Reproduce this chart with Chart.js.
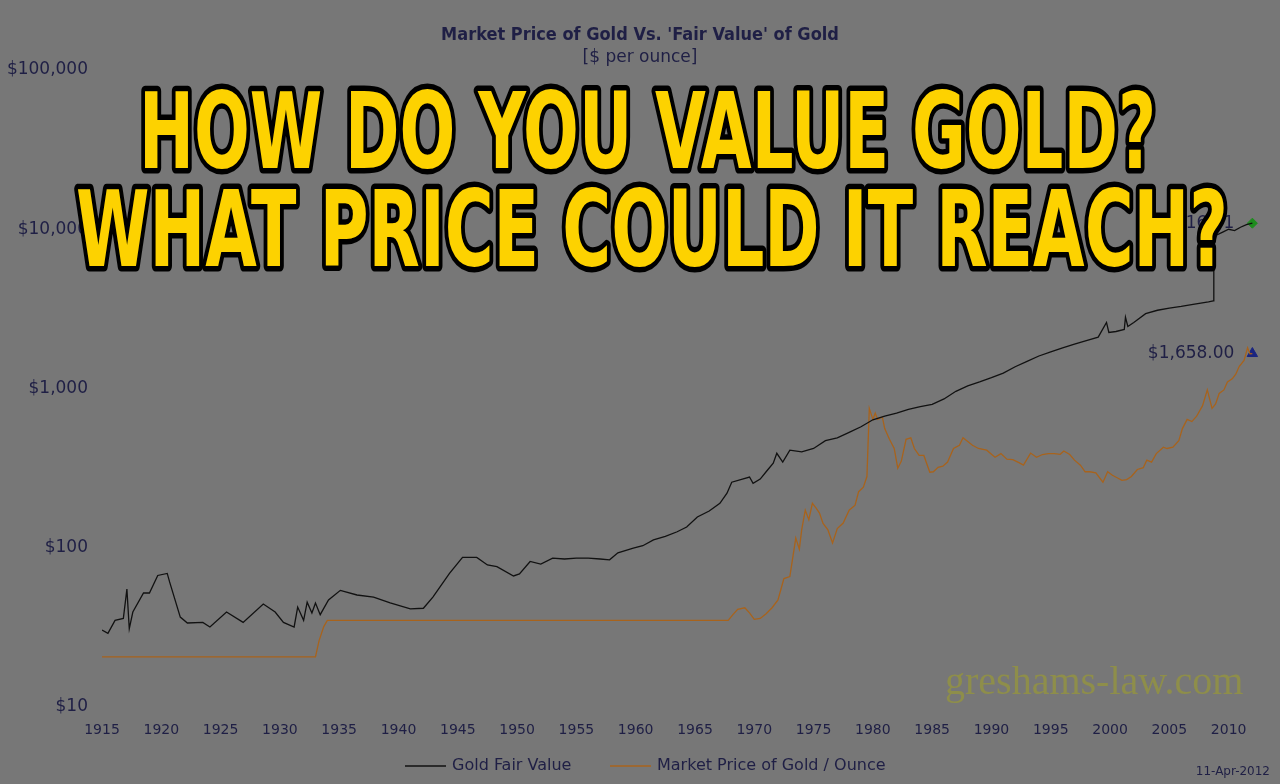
<!DOCTYPE html>
<html>
<head>
<meta charset="utf-8">
<script src="https://cdn.jsdelivr.net/npm/chart.js@4.4.0/dist/chart.umd.min.js"></script>
<style>
html, body { margin: 0; padding: 0; background: #777777; }
#wrap { width: 1280px; height: 784px; position: relative; }
</style>
</head>
<body>
<div id="wrap"><canvas id="goldChart"></canvas></div>
<script>
// fair value of gold
const fairYears = [1915, 1915.5, 1916.1, 1916.8, 1917.1, 1917.3, 1917.6, 1918.5, 1919, 1919.7, 1920.5, 1920.7,
  1921.6, 1922.2, 1923.5, 1924.1, 1925.5, 1926.9, 1928.6, 1929.6, 1930.3, 1931.2, 1931.5, 1932, 1932.3,
  1932.7, 1933, 1933.4, 1934.1, 1935.1, 1936.5, 1937.9, 1939.3, 1941, 1942.1, 1942.9, 1944.3, 1945.4,
  1946.6, 1947.5, 1948.3, 1949.7, 1950.2, 1951.1, 1952, 1953, 1954, 1955, 1956, 1957, 1957.8, 1958.5,
  1959.8, 1960.6, 1961.5, 1962.5, 1963.5, 1964.3, 1965.2, 1966.2, 1967.1, 1967.7, 1968.1, 1969, 1969.6,
  1969.9, 1970.5, 1971, 1971.6, 1971.9, 1972.4, 1973, 1974, 1975, 1976, 1977, 1978, 1979, 1980, 1981,
  1982, 1983, 1984, 1985, 1986, 1987, 1988, 1989, 1990, 1991, 1992, 1993, 1994, 1995, 1996, 1997, 1998,
  1999, 1999.7, 1999.9, 2000.5, 2001.2, 2001.3, 2001.5, 2002, 2003, 2004, 2005, 2006, 2007, 2008.3,
  2008.7, 2008.75, 2009, 2009.5, 2010, 2010.5, 2011, 2011.5, 2012];
const fairValue = [30.4, 29, 35, 36, 55, 31, 39.5, 52, 52, 67, 69, 61,
  36.7, 33.7, 34, 31.8, 39.5, 34, 44.3, 39.5, 34, 31.8, 42.4, 35, 45.5,
  38.9, 45, 38, 47, 54, 50.5, 49, 45, 41.3, 41.7, 49, 69, 87,
  87, 78, 76, 66.5, 68.5, 82, 79, 86, 85, 86, 86, 85, 84, 93,
  99.6, 103, 112, 118, 126, 135, 156, 170, 190, 220, 258, 270, 278,
  254, 270, 300, 340, 392, 345, 410, 400, 420, 470, 490, 530, 575, 636, 670,
  700, 740, 770, 795, 860, 960, 1040, 1100, 1170, 1250, 1370, 1480, 1600, 1700, 1800, 1900, 2000,
  2100, 2600, 2250, 2280, 2350, 2800, 2450, 2600, 2950, 3100, 3200, 3280, 3380, 3500,
  3550, 8000, 9200, 9600, 10000, 9800, 10300, 10700, 10916.81];

// market price of gold per ounce
const marketYears = [1915, 1933, 1933.3, 1933.7, 1934, 1967.8, 1968.2, 1968.6, 1969.2, 1969.6, 1970, 1970.5,
  1971, 1971.5, 1972, 1972.5, 1973, 1973.5, 1973.8, 1974, 1974.3, 1974.6, 1974.9, 1975.2, 1975.5, 1975.8,
  1976.2, 1976.6, 1977, 1977.5, 1978, 1978.5, 1978.8, 1979.2, 1979.5, 1979.7, 1980, 1980.2, 1980.4, 1980.8,
  1981, 1981.4, 1981.8, 1982.1, 1982.4, 1982.8, 1983.2, 1983.5, 1983.9, 1984.3, 1984.8, 1985.1, 1985.5,
  1985.9, 1986.3, 1986.8, 1987.3, 1987.6, 1988.4, 1988.9, 1989.6, 1990.3, 1990.8, 1991.3, 1991.8, 1992.4,
  1992.7, 1993.3, 1993.8, 1994.3, 1994.8, 1995.3, 1995.8, 1996.1, 1996.6, 1997, 1997.5, 1997.9, 1998.3,
  1998.8, 1999.4, 1999.8, 2000.2, 2000.6, 2001, 2001.4, 2001.8, 2002.3, 2002.8, 2003.1, 2003.5, 2003.9,
  2004.5, 2004.8, 2005.3, 2005.8, 2006.1, 2006.5, 2006.9, 2007.3, 2007.8, 2008.2, 2008.6, 2008.9, 2009.2,
  2009.6, 2009.9, 2010.3, 2010.6, 2010.9, 2011.3, 2011.6, 2011.8, 2012];
const marketPrice = [20.67, 20.67, 26, 32, 35, 35, 38, 41, 42, 39, 35.5, 36,
  38.5, 42, 47, 64, 66, 115, 98, 130, 172, 150, 190, 178, 165, 142,
  130, 107, 132, 143, 172, 185, 225, 240, 280, 750, 640, 700, 640, 660,
  560, 480, 420, 316, 350, 480, 490, 420, 380, 380, 298, 300, 320,
  325, 345, 420, 440, 490, 440, 420, 410, 370, 390, 360, 358, 340,
  330, 393, 370, 385, 390, 390, 386, 405, 385, 355, 330, 300, 300,
  295, 258, 300, 285, 275, 265, 268, 280, 310, 318, 355, 345, 390,
  428, 420, 428, 470, 560, 640, 620, 670, 780, 980, 750, 800, 930,
  980, 1100, 1150, 1230, 1380, 1500, 1800, 1650, 1658];

const yTicks = [10, 100, 1000, 10000, 100000];
const xTicks = [1915, 1920, 1925, 1930, 1935, 1940, 1945, 1950, 1955, 1960, 1965, 1970, 1975,
  1980, 1985, 1990, 1995, 2000, 2005, 2010];
const lastDate = 2012;
const lastFair = 10916.81;
const lastMarket = 1658.00;
const seriesNames = ['Gold Fair Value', 'Market Price of Gold / Ounce'];
const seriesColors = ['#111111', '#a8631c'];
const headlineText = ['HOW DO YOU VALUE GOLD?', 'WHAT PRICE COULD IT REACH?'];

const ink = '#1f1f45';

function money(v, dec) {
  return '$' + v.toLocaleString('en-US', { minimumFractionDigits: dec, maximumFractionDigits: dec });
}

// watermark under the lines, end labels, legend, date and the big headline on top
const extras = {
  id: 'extras',
  beforeDatasetsDraw(chart) {
    const ctx = chart.ctx;
    ctx.save();
    ctx.font = '40px "Liberation Serif"';
    ctx.fillStyle = '#8e8e4a';
    ctx.textBaseline = 'alphabetic';
    ctx.fillText('greshams-law.com', 945, 694);
    ctx.restore();
  },
  afterDatasetsDraw(chart) {
    const ctx = chart.ctx;
    const x = chart.scales.x, y = chart.scales.y;
    ctx.save();
    ctx.font = '17px "DejaVu Sans"';
    ctx.fillStyle = ink;
    ctx.textAlign = 'right';
    ctx.textBaseline = 'middle';
    ctx.fillText(money(lastFair, 2), x.getPixelForValue(lastDate) - 18, y.getPixelForValue(lastFair));
    ctx.fillText(money(lastMarket, 2), x.getPixelForValue(lastDate) - 18, y.getPixelForValue(lastMarket));
    ctx.font = '12px "DejaVu Sans"';
    ctx.fillText('11-Apr-2012', 1270, 772);

    // legend
    ctx.textAlign = 'left';
    ctx.font = '16px "DejaVu Sans"';
    const legendX = [405, 610];
    seriesNames.forEach((name, i) => {
      ctx.strokeStyle = seriesColors[i];
      ctx.lineWidth = 1.5;
      ctx.beginPath();
      ctx.moveTo(legendX[i], 766);
      ctx.lineTo(legendX[i] + 41, 766);
      ctx.stroke();
      ctx.fillStyle = ink;
      ctx.fillText(name, legendX[i] + 47, 766);
    });
    ctx.restore();
  },
  afterDraw(chart) {
    const ctx = chart.ctx;
    const rows = [
      { text: headlineText[0], left: 139, base: 168, width: 1017 },
      { text: headlineText[1], left: 76, base: 266, width: 1152 }
    ];
    ctx.save();
    ctx.font = 'bold 106px "DejaVu Sans Condensed"';
    ctx.textBaseline = 'alphabetic';
    ctx.lineJoin = 'round';
    rows.forEach(r => {
      const w = ctx.measureText(r.text).width;
      const sx = r.width / w;
      ctx.save();
      ctx.translate(r.left, r.base);
      ctx.scale(sx, 1);
      ctx.strokeStyle = '#000000';
      ctx.lineWidth = 11;
      ctx.strokeText(r.text, 0, 0);
      ctx.fillStyle = '#fdd200';
      ctx.fillText(r.text, 0, 0);
      ctx.restore();
    });
    ctx.restore();
  }
};

const ctx = document.getElementById('goldChart').getContext('2d');
const goldChart = new Chart(ctx, {
  type: 'line',
  data: {
    datasets: [{
      label: seriesNames[0],
      data: fairYears.map((yr, i) => ({ x: yr, y: fairValue[i] })),
      borderColor: seriesColors[0],
      backgroundColor: seriesColors[0],
      borderWidth: 1.3,
      pointRadius: 0
    }, {
      label: seriesNames[1],
      data: marketYears.map((yr, i) => ({ x: yr, y: marketPrice[i] })),
      borderColor: seriesColors[1],
      backgroundColor: seriesColors[1],
      borderWidth: 1.3,
      pointRadius: 0
    }, {
      label: 'fair end',
      data: [{ x: lastDate, y: lastFair }],
      showLine: false,
      pointStyle: 'rectRot',
      pointRadius: 5,
      backgroundColor: '#1e8c1e',
      borderColor: '#1e8c1e'
    }, {
      label: 'market end',
      data: [{ x: lastDate, y: lastMarket }],
      showLine: false,
      pointStyle: 'triangle',
      pointRadius: 6,
      backgroundColor: '#1a2580',
      borderColor: '#1a2580'
    }]
  },
  options: {
    responsive: true,
    maintainAspectRatio: false,
    animation: false,
    layout: { padding: 0 },
    plugins: {
      title: {
        display: true,
        text: "Market Price of Gold Vs. 'Fair Value' of Gold",
        color: ink,
        font: { family: '"DejaVu Sans Condensed"', size: 18, weight: 'bold' },
        padding: { top: 25, bottom: 1 }
      },
      subtitle: {
        display: true,
        text: '[$ per ounce]',
        color: ink,
        font: { family: '"DejaVu Sans"', size: 17 },
        padding: { top: 0, bottom: 2 }
      },
      legend: { display: false },
      tooltip: { enabled: false }
    },
    scales: {
      x: {
        type: 'linear',
        min: 1915,
        max: 2013.74,
        grid: { display: false, drawTicks: false },
        border: { display: false },
        afterBuildTicks: s => { s.ticks = xTicks.map(v => ({ value: v })); },
        afterFit: s => { s.height = 77; },
        ticks: {
          color: ink,
          font: { family: '"DejaVu Sans"', size: 14 },
          padding: 15,
          maxRotation: 0,
          autoSkip: false,
          callback: v => String(v)
        }
      },
      y: {
        type: 'logarithmic',
        min: 10,
        max: 100000,
        grid: { display: false, drawTicks: false },
        border: { display: false },
        afterBuildTicks: s => { s.ticks = yTicks.map(v => ({ value: v })); },
        afterFit: s => { s.width = 102; },
        ticks: {
          color: ink,
          font: { family: '"DejaVu Sans"', size: 17 },
          padding: 14,
          callback: v => money(v, 0)
        }
      }
    }
  },
  plugins: [extras]
});
</script>
</body>
</html>
